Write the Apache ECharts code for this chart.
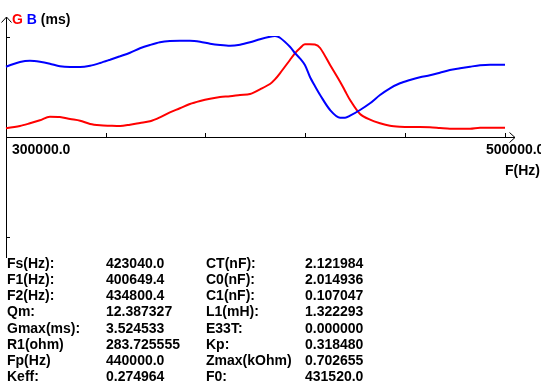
<!DOCTYPE html>
<html><head><meta charset="utf-8">
<script src="https://cdn.jsdelivr.net/npm/echarts@6/dist/echarts.min.js"></script>
<style>html,body{margin:0;padding:0;background:#fff}#c{width:541px;height:387px}</style>
</head><body><div id="c"></div>
<script>
// Frequency (Hz)
const freqHz = [300000,305600,309600,313600,317600,321600,325700,329700,333700,337700,341700,345700,349700,353700,357700,361700,365700,369700,373700,377800,381800,385800,389800,393800,397800,401800,405800,407800,409800,413800,415800,417800,419800,421800,423800,425900,429900,433900,435900,437900,441900,445900,449900,453900,457900,461900,465900,469900,473900,477900,482000,486000,490000,494000,500000];
// Conductance G (ms)
const gMs = [0.331,0.418,0.521,0.635,0.771,0.760,0.684,0.619,0.494,0.445,0.429,0.418,0.467,0.532,0.597,0.749,0.939,1.091,1.254,1.368,1.455,1.520,1.547,1.596,1.634,1.813,2.014,2.190,2.421,2.926,3.181,3.371,3.523,3.524,3.515,3.382,2.736,2.101,1.750,1.406,0.874,0.657,0.521,0.426,0.391,0.380,0.380,0.369,0.342,0.315,0.315,0.315,0.353,0.353,0.353];
// Susceptance B (ms)
const bMs = [2.671,2.850,2.899,2.861,2.785,2.687,2.660,2.660,2.709,2.812,2.937,3.067,3.203,3.371,3.496,3.599,3.648,3.659,3.659,3.621,3.545,3.496,3.469,3.507,3.599,3.716,3.811,3.838,3.773,3.431,3.192,2.991,2.736,2.291,1.938,1.596,1.026,0.733,0.733,0.809,1.026,1.281,1.596,1.851,2.041,2.166,2.269,2.345,2.443,2.546,2.611,2.671,2.725,2.747,2.747];

const xTickLabels = ['300000.0', '500000.0'];
const xTickValues = [300000, 500000];
const xAxisName = 'F(Hz)';
const seriesNames = ['G', 'B'];
const yUnit = '(ms)';

const paramLabelsA = ['Fs(Hz):','F1(Hz):','F2(Hz):','Qm:','Gmax(ms):','R1(ohm)','Fp(Hz)','Keff:'];
const paramValuesA = ['423040.0','400649.4','434800.4','12.387327','3.524533','283.725555','440000.0','0.274964'];
const paramLabelsB = ['CT(nF):','C0(nF):','C1(nF):','L1(mH):','E33T:','Kp:','Zmax(kOhm)','F0:'];
const paramValuesB = ['2.121984','2.014936','0.107047','1.322293','0.000000','0.318480','0.702655','431520.0'];

const FONT = 'Liberation Sans';
const F = 'bold 14px "' + FONT + '"';
const chart = echarts.init(document.getElementById('c'), null, {renderer: 'canvas'});
const gData = freqHz.map((f, i) => [f, gMs[i]]);
const bData = freqHz.map((f, i) => [f, bMs[i]]);

chart.setOption({
  animation: false,
  backgroundColor: '#ffffff',
  grid: {left: 6, right: 36, top: 37, height: 200},
  xAxis: {
    type: 'value', min: 300000, max: 500000, interval: 40000,
    axisLine: {show: false, onZero: true},
    axisTick: {show: true, inside: true, length: 4, lineStyle: {color: '#000', width: 1}},
    axisLabel: {show: false},
    splitLine: {show: false}
  },
  yAxis: {
    type: 'value', min: -3.8, max: 3.8, interval: 3.8,
    axisLine: {show: false},
    axisTick: {show: true, inside: true, length: 4, lineStyle: {color: '#000', width: 1}},
    axisLabel: {show: false},
    splitLine: {show: false}
  },
  series: [
    {name: seriesNames[0], type: 'line', data: gData, showSymbol: false, smooth: 0.3,
     lineStyle: {color: '#ff0000', width: 2}, itemStyle: {color: '#ff0000'}, z: 3},
    {name: seriesNames[1], type: 'line', data: bData, showSymbol: false, smooth: 0.3,
     lineStyle: {color: '#0000ff', width: 2}, itemStyle: {color: '#0000ff'}, z: 3}
  ]
});

const px = (f, v) => chart.convertToPixel({gridIndex: 0}, [f, v]);
const o = px(300000, 0);
const xEnd = px(500000, 0);
const ax = Math.round(o[0]) + 0.5;
const ay = Math.round(o[1]) + 0.5;
const lineStyle = {stroke: '#000', lineWidth: 1};
const txt = (x, y, text, fill) => ({
  type: 'text', x, y, silent: true,
  style: {text, fill: fill || '#000', font: F, textVerticalAlign: 'middle', textAlign: 'left'}
});

const g = [
  {type: 'line', shape: {x1: ax, y1: 17, x2: ax, y2: 258}, style: lineStyle, silent: true},
  {type: 'polyline', shape: {points: [[ax - 5, 22.5], [ax, 17], [ax + 5, 22.5]]}, style: Object.assign({fill: null}, lineStyle), silent: true},
  {type: 'line', shape: {x1: ax, y1: ay, x2: xEnd[0] + 10, y2: ay}, style: lineStyle, silent: true},
  {type: 'polyline', shape: {points: [[xEnd[0] + 4.5, ay - 5], [xEnd[0] + 10, ay], [xEnd[0] + 4.5, ay + 5]]}, style: Object.assign({fill: null}, lineStyle), silent: true},
  {type: 'text', x: 12, y: 20, silent: true, style: {
    text: '{g|' + seriesNames[0] + '} {b|' + seriesNames[1] + '} {k|' + yUnit + '}',
    font: F, textVerticalAlign: 'middle',
    rich: {g: {fill: '#ff0000', font: F}, b: {fill: '#0000ff', font: F}, k: {fill: '#000', font: F}}
  }},
  txt(px(xTickValues[0], 0)[0] + 6, 150, xTickLabels[0]),
  txt(px(xTickValues[1], 0)[0] - 19, 150, xTickLabels[1]),
  txt(505, 171, xAxisName)
];
const rowY0 = 264, rowDy = 16.2;
for (let i = 0; i < paramLabelsA.length; i++) {
  const y = rowY0 + i * rowDy;
  g.push(txt(7, y, paramLabelsA[i]));
  g.push(txt(106, y, paramValuesA[i]));
  g.push(txt(206, y, paramLabelsB[i]));
  g.push(txt(305, y, paramValuesB[i]));
}
chart.setOption({graphic: g});
</script></body></html>
